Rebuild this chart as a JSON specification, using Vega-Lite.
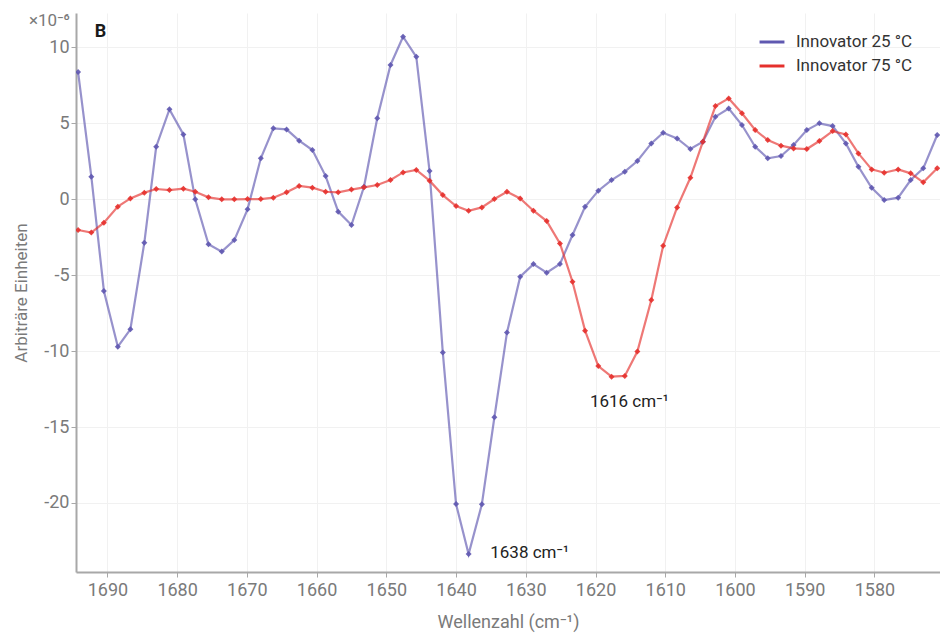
{
  "$schema": "https://vega.github.io/schema/vega-lite/v6.json",
  "width": 864,
  "height": 559,
  "autosize": {"type": "none"},
  "padding": {"left": 76, "top": 13, "right": 0, "bottom": 65},
  "background": "white",
  "config": {
    "font": "Roboto",
    "view": {"stroke": null},
    "axis": {
      "labelFont": "Roboto",
      "titleFont": "Roboto",
      "labelColor": "#7a7a7a",
      "titleColor": "#7a7a7a",
      "labelFontSize": 18,
      "titleFontSize": 18,
      "titleFontWeight": "normal",
      "domainColor": "#a8a8a8",
      "domainWidth": 2,
      "tickColor": "#a8a8a8",
      "tickSize": 5,
      "gridColor": "#f1f1f1",
      "gridWidth": 1
    }
  },
  "datasets": {
    "spectra": [
      {"w": 1694.2, "s": "Innovator 25 °C", "v": 8.35},
      {"w": 1692.3, "s": "Innovator 25 °C", "v": 1.47},
      {"w": 1690.5, "s": "Innovator 25 °C", "v": -6.05},
      {"w": 1688.5, "s": "Innovator 25 °C", "v": -9.72},
      {"w": 1686.7, "s": "Innovator 25 °C", "v": -8.57},
      {"w": 1684.7, "s": "Innovator 25 °C", "v": -2.87},
      {"w": 1683.0, "s": "Innovator 25 °C", "v": 3.44},
      {"w": 1681.1, "s": "Innovator 25 °C", "v": 5.90},
      {"w": 1679.1, "s": "Innovator 25 °C", "v": 4.25},
      {"w": 1677.4, "s": "Innovator 25 °C", "v": -0.02},
      {"w": 1675.5, "s": "Innovator 25 °C", "v": -2.98},
      {"w": 1673.6, "s": "Innovator 25 °C", "v": -3.46},
      {"w": 1671.8, "s": "Innovator 25 °C", "v": -2.70},
      {"w": 1669.9, "s": "Innovator 25 °C", "v": -0.68},
      {"w": 1668.0, "s": "Innovator 25 °C", "v": 2.68},
      {"w": 1666.2, "s": "Innovator 25 °C", "v": 4.65},
      {"w": 1664.3, "s": "Innovator 25 °C", "v": 4.58},
      {"w": 1662.5, "s": "Innovator 25 °C", "v": 3.84},
      {"w": 1660.6, "s": "Innovator 25 °C", "v": 3.22},
      {"w": 1658.7, "s": "Innovator 25 °C", "v": 1.51},
      {"w": 1656.9, "s": "Innovator 25 °C", "v": -0.83},
      {"w": 1655.0, "s": "Innovator 25 °C", "v": -1.71},
      {"w": 1653.2, "s": "Innovator 25 °C", "v": 0.81},
      {"w": 1651.3, "s": "Innovator 25 °C", "v": 5.31},
      {"w": 1649.4, "s": "Innovator 25 °C", "v": 8.82},
      {"w": 1647.6, "s": "Innovator 25 °C", "v": 10.68},
      {"w": 1645.7, "s": "Innovator 25 °C", "v": 9.36},
      {"w": 1643.8, "s": "Innovator 25 °C", "v": 1.84},
      {"w": 1641.9, "s": "Innovator 25 °C", "v": -10.09},
      {"w": 1640.0, "s": "Innovator 25 °C", "v": -20.07},
      {"w": 1638.2, "s": "Innovator 25 °C", "v": -23.36},
      {"w": 1636.3, "s": "Innovator 25 °C", "v": -20.09},
      {"w": 1634.5, "s": "Innovator 25 °C", "v": -14.36},
      {"w": 1632.7, "s": "Innovator 25 °C", "v": -8.79},
      {"w": 1630.8, "s": "Innovator 25 °C", "v": -5.11},
      {"w": 1628.9, "s": "Innovator 25 °C", "v": -4.28},
      {"w": 1627.0, "s": "Innovator 25 °C", "v": -4.85},
      {"w": 1625.1, "s": "Innovator 25 °C", "v": -4.27},
      {"w": 1623.3, "s": "Innovator 25 °C", "v": -2.37},
      {"w": 1621.5, "s": "Innovator 25 °C", "v": -0.51},
      {"w": 1619.6, "s": "Innovator 25 °C", "v": 0.55},
      {"w": 1617.7, "s": "Innovator 25 °C", "v": 1.25},
      {"w": 1615.8, "s": "Innovator 25 °C", "v": 1.80},
      {"w": 1614.0, "s": "Innovator 25 °C", "v": 2.50},
      {"w": 1612.0, "s": "Innovator 25 °C", "v": 3.66},
      {"w": 1610.3, "s": "Innovator 25 °C", "v": 4.36},
      {"w": 1608.3, "s": "Innovator 25 °C", "v": 3.99},
      {"w": 1606.4, "s": "Innovator 25 °C", "v": 3.29},
      {"w": 1604.6, "s": "Innovator 25 °C", "v": 3.77},
      {"w": 1602.8, "s": "Innovator 25 °C", "v": 5.42},
      {"w": 1600.9, "s": "Innovator 25 °C", "v": 5.96},
      {"w": 1599.0, "s": "Innovator 25 °C", "v": 4.87},
      {"w": 1597.1, "s": "Innovator 25 °C", "v": 3.44},
      {"w": 1595.3, "s": "Innovator 25 °C", "v": 2.68},
      {"w": 1593.4, "s": "Innovator 25 °C", "v": 2.83},
      {"w": 1591.6, "s": "Innovator 25 °C", "v": 3.55},
      {"w": 1589.7, "s": "Innovator 25 °C", "v": 4.54},
      {"w": 1587.9, "s": "Innovator 25 °C", "v": 4.98},
      {"w": 1586.0, "s": "Innovator 25 °C", "v": 4.80},
      {"w": 1584.1, "s": "Innovator 25 °C", "v": 3.66},
      {"w": 1582.3, "s": "Innovator 25 °C", "v": 2.13},
      {"w": 1580.4, "s": "Innovator 25 °C", "v": 0.74},
      {"w": 1578.6, "s": "Innovator 25 °C", "v": -0.07},
      {"w": 1576.6, "s": "Innovator 25 °C", "v": 0.09},
      {"w": 1574.8, "s": "Innovator 25 °C", "v": 1.25},
      {"w": 1573.0, "s": "Innovator 25 °C", "v": 2.02},
      {"w": 1571.0, "s": "Innovator 25 °C", "v": 4.21},
      {"w": 1694.2, "s": "Innovator 75 °C", "v": -2.04},
      {"w": 1692.3, "s": "Innovator 75 °C", "v": -2.21},
      {"w": 1690.5, "s": "Innovator 75 °C", "v": -1.56},
      {"w": 1688.5, "s": "Innovator 75 °C", "v": -0.50},
      {"w": 1686.7, "s": "Innovator 75 °C", "v": 0.04},
      {"w": 1684.7, "s": "Innovator 75 °C", "v": 0.42},
      {"w": 1683.0, "s": "Innovator 75 °C", "v": 0.66},
      {"w": 1681.1, "s": "Innovator 75 °C", "v": 0.59},
      {"w": 1679.1, "s": "Innovator 75 °C", "v": 0.68},
      {"w": 1677.4, "s": "Innovator 75 °C", "v": 0.48},
      {"w": 1675.5, "s": "Innovator 75 °C", "v": 0.11},
      {"w": 1673.6, "s": "Innovator 75 °C", "v": -0.02},
      {"w": 1671.8, "s": "Innovator 75 °C", "v": -0.02},
      {"w": 1669.9, "s": "Innovator 75 °C", "v": 0.0},
      {"w": 1668.0, "s": "Innovator 75 °C", "v": 0.0},
      {"w": 1666.2, "s": "Innovator 75 °C", "v": 0.09},
      {"w": 1664.3, "s": "Innovator 75 °C", "v": 0.44},
      {"w": 1662.5, "s": "Innovator 75 °C", "v": 0.86},
      {"w": 1660.6, "s": "Innovator 75 °C", "v": 0.75},
      {"w": 1658.7, "s": "Innovator 75 °C", "v": 0.48},
      {"w": 1656.9, "s": "Innovator 75 °C", "v": 0.44},
      {"w": 1655.0, "s": "Innovator 75 °C", "v": 0.62},
      {"w": 1653.2, "s": "Innovator 75 °C", "v": 0.77},
      {"w": 1651.3, "s": "Innovator 75 °C", "v": 0.92},
      {"w": 1649.4, "s": "Innovator 75 °C", "v": 1.25},
      {"w": 1647.6, "s": "Innovator 75 °C", "v": 1.75},
      {"w": 1645.7, "s": "Innovator 75 °C", "v": 1.91},
      {"w": 1643.8, "s": "Innovator 75 °C", "v": 1.21},
      {"w": 1641.9, "s": "Innovator 75 °C", "v": 0.26},
      {"w": 1640.0, "s": "Innovator 75 °C", "v": -0.46},
      {"w": 1638.2, "s": "Innovator 75 °C", "v": -0.77},
      {"w": 1636.3, "s": "Innovator 75 °C", "v": -0.55},
      {"w": 1634.5, "s": "Innovator 75 °C", "v": 0.0},
      {"w": 1632.7, "s": "Innovator 75 °C", "v": 0.48},
      {"w": 1630.8, "s": "Innovator 75 °C", "v": 0.04},
      {"w": 1628.9, "s": "Innovator 75 °C", "v": -0.77},
      {"w": 1627.0, "s": "Innovator 75 °C", "v": -1.45},
      {"w": 1625.1, "s": "Innovator 75 °C", "v": -2.92},
      {"w": 1623.3, "s": "Innovator 75 °C", "v": -5.44},
      {"w": 1621.5, "s": "Innovator 75 °C", "v": -8.66},
      {"w": 1619.6, "s": "Innovator 75 °C", "v": -10.99},
      {"w": 1617.7, "s": "Innovator 75 °C", "v": -11.69},
      {"w": 1615.8, "s": "Innovator 75 °C", "v": -11.64},
      {"w": 1614.0, "s": "Innovator 75 °C", "v": -10.04},
      {"w": 1612.0, "s": "Innovator 75 °C", "v": -6.64},
      {"w": 1610.3, "s": "Innovator 75 °C", "v": -3.07},
      {"w": 1608.3, "s": "Innovator 75 °C", "v": -0.55},
      {"w": 1606.4, "s": "Innovator 75 °C", "v": 1.40},
      {"w": 1604.6, "s": "Innovator 75 °C", "v": 3.77},
      {"w": 1602.8, "s": "Innovator 75 °C", "v": 6.12},
      {"w": 1600.9, "s": "Innovator 75 °C", "v": 6.62},
      {"w": 1599.0, "s": "Innovator 75 °C", "v": 5.64},
      {"w": 1597.1, "s": "Innovator 75 °C", "v": 4.54},
      {"w": 1595.3, "s": "Innovator 75 °C", "v": 3.88},
      {"w": 1593.4, "s": "Innovator 75 °C", "v": 3.51},
      {"w": 1591.6, "s": "Innovator 75 °C", "v": 3.33},
      {"w": 1589.7, "s": "Innovator 75 °C", "v": 3.29},
      {"w": 1587.9, "s": "Innovator 75 °C", "v": 3.82},
      {"w": 1586.0, "s": "Innovator 75 °C", "v": 4.47},
      {"w": 1584.1, "s": "Innovator 75 °C", "v": 4.25},
      {"w": 1582.3, "s": "Innovator 75 °C", "v": 3.00},
      {"w": 1580.4, "s": "Innovator 75 °C", "v": 1.95},
      {"w": 1578.6, "s": "Innovator 75 °C", "v": 1.73},
      {"w": 1576.6, "s": "Innovator 75 °C", "v": 1.95},
      {"w": 1574.8, "s": "Innovator 75 °C", "v": 1.69},
      {"w": 1573.0, "s": "Innovator 75 °C", "v": 1.10},
      {"w": 1571.0, "s": "Innovator 75 °C", "v": 2.02}
    ],
    "notes": [
      {"w": 1635.1, "v": -23.62, "label": "1638 cm⁻¹"},
      {"w": 1620.8, "v": -13.7, "label": "1616 cm⁻¹"}
    ],
    "panel": [
      {"w": 1691.8, "v": 10.63, "label": "B"}
    ],
    "unit": [
      {"w": 1695.4, "v": 11.38, "label": "×10⁻⁶"}
    ]
  },
  "layer": [
    {
      "data": {"name": "spectra"},
      "mark": {"type": "line", "strokeWidth": 2.2, "opacity": 0.65, "clip": true},
      "encoding": {
        "x": {
          "field": "w", "type": "quantitative",
          "scale": {"domain": [1570.6, 1694.5], "reverse": true, "nice": false, "zero": false},
          "axis": {
            "title": "Wellenzahl (cm⁻¹)",
            "values": [1690, 1680, 1670, 1660, 1650, 1640, 1630, 1620, 1610, 1600, 1590, 1580],
            "labelExpr": "toString(datum.value)",
            "labelPadding": 4,
            "titlePadding": 14,
            "grid": true
          }
        },
        "y": {
          "field": "v", "type": "quantitative",
          "scale": {"domain": [-24.54, 12.24], "nice": false, "zero": false},
          "axis": {
            "title": "Arbiträre Einheiten",
            "titleFontSize": 17,
            "values": [-20, -15, -10, -5, 0, 5, 10],
            "labelExpr": "toString(datum.value)",
            "labelPadding": 2,
            "titlePadding": 13,
            "grid": true
          }
        },
        "color": {
          "field": "s", "type": "nominal",
          "scale": {"domain": ["Innovator 25 °C", "Innovator 75 °C"], "range": ["#5f58b0", "#e5302c"]},
          "legend": {
            "title": null,
            "orient": "none",
            "legendX": 682,
            "legendY": 15,
            "symbolType": "stroke",
            "symbolSize": 620,
            "symbolStrokeWidth": 3,
            "symbolOpacity": 1,
            "labelFontSize": 17,
            "labelColor": "#333333",
            "labelFont": "Roboto",
            "labelOffset": 10,
            "rowPadding": 2,
            "padding": 0
          }
        }
      }
    },
    {
      "data": {"name": "spectra"},
      "mark": {"type": "point", "filled": true, "size": 36, "opacity": 0.9, "shape": "diamond", "clip": true},
      "encoding": {
        "x": {"field": "w", "type": "quantitative"},
        "y": {"field": "v", "type": "quantitative"},
        "color": {"field": "s", "type": "nominal", "legend": null}
      }
    },
    {
      "data": {"name": "notes"},
      "mark": {"type": "text", "align": "left", "baseline": "alphabetic", "fontSize": 17, "color": "#222222", "font": "Roboto"},
      "encoding": {
        "x": {"field": "w", "type": "quantitative"},
        "y": {"field": "v", "type": "quantitative"},
        "text": {"field": "label"}
      }
    },
    {
      "data": {"name": "panel"},
      "mark": {"type": "text", "align": "left", "baseline": "alphabetic", "fontSize": 18, "fontWeight": "bold", "color": "#1a1a1a", "font": "Roboto"},
      "encoding": {
        "x": {"field": "w", "type": "quantitative"},
        "y": {"field": "v", "type": "quantitative"},
        "text": {"field": "label"}
      }
    },
    {
      "data": {"name": "unit"},
      "mark": {"type": "text", "align": "right", "baseline": "alphabetic", "fontSize": 17, "color": "#7a7a7a", "font": "Roboto"},
      "encoding": {
        "x": {"field": "w", "type": "quantitative"},
        "y": {"field": "v", "type": "quantitative"},
        "text": {"field": "label"}
      }
    }
  ]
}
